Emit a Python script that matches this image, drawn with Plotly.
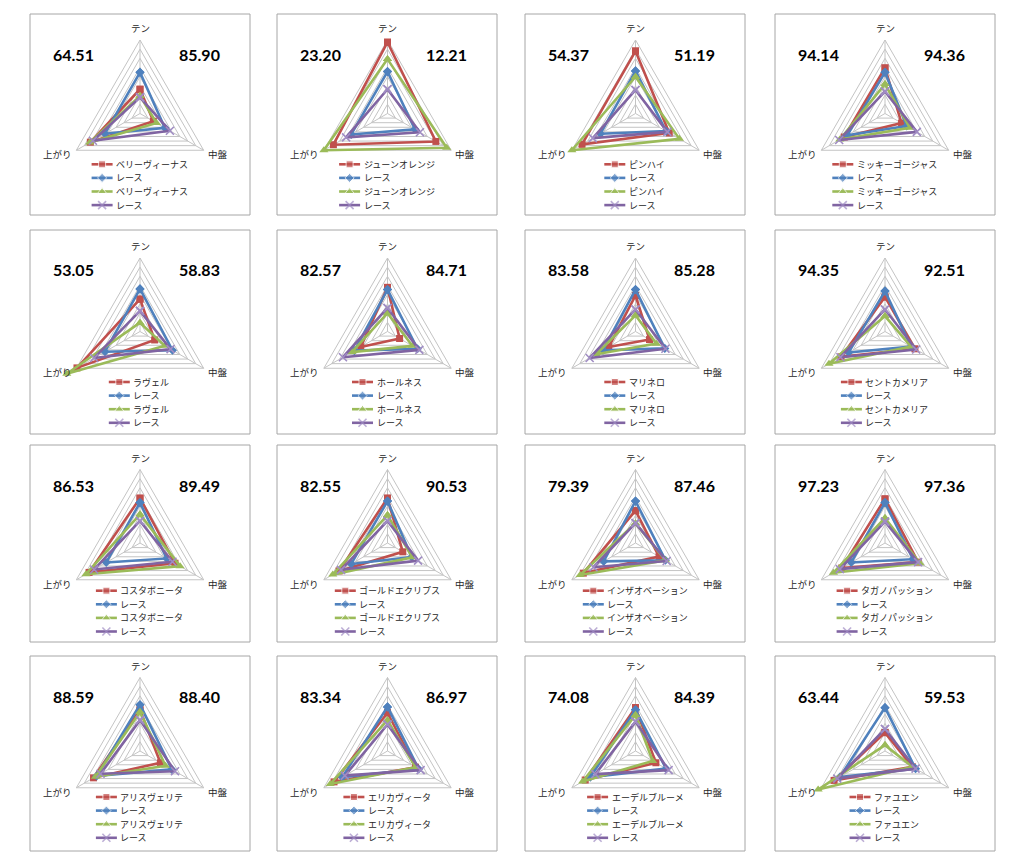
import plotly.graph_objects as go

# ---------------- data ----------------
AXES = ["テン", "中盤", "上がり"]
HORSES = ["ベリーヴィーナス", "ジューンオレンジ", "ピンハイ", "ミッキーゴージャス",
          "ラヴェル", "ホールネス", "マリネロ", "セントカメリア",
          "コスタボニータ", "ゴールドエクリプス", "インザオベーション", "タガノパッション",
          "アリスヴェリテ", "エリカヴィータ", "エーデルブルーメ", "ファユエン"]
RACE = "レース"
LEFT_SCORES = ["64.51", "23.20", "54.37", "94.14", "53.05", "82.57", "83.58", "94.35",
               "86.53", "82.55", "79.39", "97.23", "88.59", "83.34", "74.08", "63.44"]
RIGHT_SCORES = ["85.90", "12.21", "51.19", "94.36", "58.83", "84.71", "85.28", "92.51",
                "89.49", "90.53", "87.46", "97.36", "88.40", "86.97", "84.39", "59.53"]

# values per panel: [テン, 中盤, 上がり]
HORSE_1 = [[33, 21, 78], [97, 76, 85], [85, 53, 84], [62, 26, 64],
           [44, 23, 99], [60, 19, 42], [49, 22, 42], [47, 47, 69],
           [61, 55, 80], [61, 24, 76], [44, 37, 82], [60, 52, 68],
           [56, 32, 73], [52, 44, 84], [59, 32, 79], [25, 43, 80]]
RACE_1 = [[56, 39, 55], [57, 43, 57], [58, 48, 55], [56, 34, 59],
          [58, 51, 55], [57, 47, 52], [57, 46, 51], [55, 41, 57],
          [55, 42, 53], [57, 38, 57], [57, 47, 50], [55, 44, 53],
          [63, 50, 68], [60, 49, 71], [56, 48, 71], [59, 48, 71]]
HORSE_2 = [[24, 26, 79], [74, 93, 100], [50, 69, 100], [40, 39, 71],
           [12, 39, 115], [25, 39, 56], [22, 33, 62], [21, 41, 88],
           [39, 63, 85], [38, 39, 86], [27, 47, 87], [34, 55, 81],
           [53, 40, 70], [42, 44, 90], [49, 27, 83], [8, 43, 105]]
RACE_2 = [[22, 47, 74], [33, 51, 65], [32, 50, 67], [30, 50, 72],
          [28, 48, 72], [32, 50, 70], [30, 47, 72], [30, 49, 70],
          [30, 51, 72], [30, 48, 73], [27, 49, 66], [29, 52, 71],
          [42, 55, 62], [36, 52, 67], [40, 52, 63], [30, 48, 75]]
RINGS = [12.5, 25, 37.5, 50, 62.5, 75, 87.5, 100]

# ---------------- layout constants ----------------
W, H = 1024, 866
BOX_LEFT = [30, 277, 525, 775]
BOX_TOP = [14, 230, 445, 656]
BOX_BOTTOM = [215, 434, 642, 851]
BOX_W = 220
CENTER_X = [140, 387.5, 635.5, 885]
CENTER_Y = [113.5, 331.5, 543, 751]
LEGEND_FIRST = [164.3, 382, 590.7, 797]
LEGEND_STEP = 13.6
KEY_LEN = 21
CHAR_W = 8.6
OUTER_PX = 73.5
RMAX = 125
RPX = OUTER_PX * RMAX / 100.0

GRID = "#C4C4C4"
SERIES_STYLE = [
    dict(color="#C0504D", symbol="square", size=7),
    dict(color="#4F81BD", symbol="diamond", size=7),
    dict(color="#9BBB59", symbol="triangle-up", size=8),
    dict(color="#8064A2", symbol="x-thin", size=8),
]
JP = "Noto Sans CJK JP"
TEXT_COLOR = "#262626"

fig = go.Figure()
layout = dict(width=W, height=H, margin=dict(l=0, r=0, t=0, b=0),
              paper_bgcolor="white", plot_bgcolor="rgba(0,0,0,0)", showlegend=False,
              xaxis=dict(domain=[0, 1], range=[0, W], visible=False, fixedrange=True),
              yaxis=dict(domain=[0, 1], range=[H, 0], visible=False, fixedrange=True))
annotations = []
shapes = []


def px(x):
    return x / W


def py(y):
    return 1 - y / H


def marker_of(st, size):
    m = dict(symbol=st["symbol"], size=size, color=st["color"])
    if st["symbol"] == "x-thin":
        m["line"] = dict(color="#A08CC4", width=1.6)
    return m


for i, horse in enumerate(HORSES):
    row, col = divmod(i, 4)
    cx, cy = CENTER_X[col], CENTER_Y[row]
    pkey = "polar" if i == 0 else f"polar{i + 1}"

    # spokes
    for ax in AXES:
        fig.add_trace(go.Scatterpolar(r=[0, RINGS[-1]], theta=[ax, ax], mode="lines",
                                      line=dict(color=GRID, width=1), subplot=pkey,
                                      showlegend=False, hoverinfo="skip"))

    series = [(horse, HORSE_1[i]), (RACE, RACE_1[i]), (horse, HORSE_2[i]), (RACE, RACE_2[i])]
    block_w = KEY_LEN + 2 + CHAR_W * len(horse)
    lx = cx - 2.5 - block_w / 2
    for k, ((name, vals), st) in enumerate(zip(series, SERIES_STYLE)):
        fig.add_trace(go.Scatterpolar(
            r=list(vals) + [vals[0]], theta=AXES + [AXES[0]], mode="lines+markers",
            name=name, line=dict(color=st["color"], width=2.6),
            marker=marker_of(st, st["size"]), subplot=pkey, showlegend=False))
        # legend key for this series
        ly = LEGEND_FIRST[row] + LEGEND_STEP * k
        fig.add_trace(go.Scatter(
            x=[lx, lx + KEY_LEN / 2, lx + KEY_LEN], y=[ly, ly, ly], mode="lines+markers",
            line=dict(color=st["color"], width=2.6),
            marker=marker_of(st, [0, st["size"], 0]),
            showlegend=False, hoverinfo="skip", xaxis="x", yaxis="y", name=name))
        annotations.append(dict(text=name, x=px(lx + KEY_LEN + 1.5), y=py(ly), xref="paper",
                                yref="paper", showarrow=False, xanchor="left",
                                yanchor="middle",
                                font=dict(family=JP, size=9, color=TEXT_COLOR)))

    layout[pkey] = dict(
        domain=dict(x=[px(cx - RPX), px(cx + RPX)], y=[py(cy + RPX), py(cy - RPX)]),
        gridshape="linear", bgcolor="rgba(0,0,0,0)",
        radialaxis=dict(range=[0, RMAX], tickvals=RINGS, showticklabels=False, ticks="",
                        showline=False, gridcolor=GRID, gridwidth=1),
        angularaxis=dict(direction="clockwise", rotation=90, showticklabels=False, ticks="",
                         showline=False, showgrid=False, categoryorder="array",
                         categoryarray=AXES),
    )

    # frame
    shapes.append(dict(type="rect", xref="paper", yref="paper",
                       x0=px(BOX_LEFT[col]), x1=px(BOX_LEFT[col] + BOX_W),
                       y0=py(BOX_BOTTOM[row]), y1=py(BOX_TOP[row]),
                       line=dict(color="#A6A6A6", width=1), layer="below"))

    # axis labels
    lab = [(AXES[0], cx, cy - OUTER_PX - 12),
           (AXES[1], cx + OUTER_PX * 0.866 + 14, cy + OUTER_PX / 2 + 4),
           (AXES[2], cx - OUTER_PX * 0.866 - 19, cy + OUTER_PX / 2 + 4)]
    for t, x, y in lab:
        annotations.append(dict(text=t, x=px(x), y=py(y), xref="paper", yref="paper",
                                showarrow=False, xanchor="center", yanchor="middle",
                                font=dict(family=JP, size=9.5, color=TEXT_COLOR)))

    # scores
    bl, bt = BOX_LEFT[col], BOX_TOP[row]
    for t, x in [(LEFT_SCORES[i], bl + 43), (RIGHT_SCORES[i], bl + 169)]:
        annotations.append(dict(text=f"<b>{t}</b>", x=px(x), y=py(bt + 40), xref="paper",
                                yref="paper", showarrow=False, xanchor="center",
                                yanchor="middle",
                                font=dict(family="Lato", size=16, color="#000000")))

layout["annotations"] = annotations
layout["shapes"] = shapes
fig.update_layout(**layout)
fig.write_html("out.html")
